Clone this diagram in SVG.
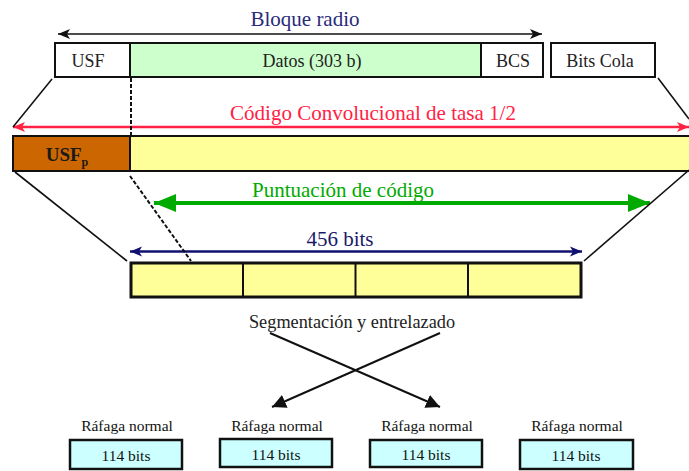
<svg xmlns="http://www.w3.org/2000/svg" width="689" height="471" viewBox="0 0 689 471">
  <style>
    text { font-family: "Liberation Serif", "Times New Roman", "DejaVu Serif", serif; }
    .lbl { font-size: 18px; fill: #222; text-anchor: middle; }
    .big { font-size: 21px; text-anchor: middle; }
    .small { font-size: 15.5px; fill: #111; text-anchor: middle; }
    .box { stroke: #111; stroke-width: 2; }
    .thin { stroke: #111; stroke-width: 1.6; fill: none; }
    .dash { stroke: #111; stroke-width: 2; stroke-dasharray: 4,2; fill: none; }
  </style>
  <defs>
    <marker id="ahBlack" markerUnits="userSpaceOnUse" markerWidth="14" markerHeight="12" refX="12" refY="6" orient="auto-start-reverse">
      <path d="M0,1 L12,6 L0,11 L3,6 Z" fill="#111"/>
    </marker>
    <marker id="ahRed" markerUnits="userSpaceOnUse" markerWidth="14" markerHeight="12" refX="12" refY="6" orient="auto-start-reverse">
      <path d="M0,1 L12,6 L0,11 L3,6 Z" fill="#ff2244"/>
    </marker>
    <marker id="ahGreen" markerUnits="userSpaceOnUse" markerWidth="24" markerHeight="22" refX="22" refY="11" orient="auto-start-reverse">
      <path d="M0,2 L22,11 L0,20 Z" fill="#00aa00"/>
    </marker>
    <marker id="ahNavy" markerUnits="userSpaceOnUse" markerWidth="14" markerHeight="12" refX="12" refY="6" orient="auto-start-reverse">
      <path d="M0,1 L12,6 L0,11 L3,6 Z" fill="#101070"/>
    </marker>
    <marker id="ahCross" markerUnits="userSpaceOnUse" markerWidth="16" markerHeight="14" refX="14" refY="7" orient="auto">
      <path d="M0,0 L14,7 L0,14 Z" fill="#111"/>
    </marker>
  </defs>

  <!-- radio block fields -->
  <g id="usf">
    <rect class="box" x="55" y="43" width="75" height="34" fill="#ffffff"/>
    <text class="lbl" x="88" y="67">USF</text>
  </g>
  <g id="datos">
    <rect class="box" x="130" y="43" width="351" height="34" fill="#ccffcc"/>
    <text class="lbl" x="312" y="67">Datos (303 b)</text>
  </g>
  <g id="bcs">
    <rect class="box" x="481" y="43" width="62" height="34" fill="#ffffff"/>
    <text class="lbl" x="513" y="67">BCS</text>
  </g>
  <g id="bits-cola">
    <rect class="box" x="551" y="43" width="104" height="34" fill="#ffffff"/>
    <text class="lbl" x="600" y="67">Bits Cola</text>
  </g>

  <!-- convolutionally coded block -->
  <g id="coded">
    <rect class="box" x="13" y="136" width="680" height="35" fill="#ffff99"/>
    <rect class="box" x="13" y="136" width="117" height="35" fill="#cc6600"/>
    <text x="67" y="161" font-size="19" font-weight="bold" fill="#1a1a1a" text-anchor="middle">USF<tspan font-size="12" dy="5">p</tspan></text>
  </g>

  <!-- 456-bit block -->
  <g id="block456">
    <rect x="131" y="263" width="450" height="34" fill="#ffff99" stroke="#111" stroke-width="3"/>
    <line x1="243" y1="263" x2="243" y2="297" stroke="#111" stroke-width="2"/>
    <line x1="355.5" y1="263" x2="355.5" y2="297" stroke="#111" stroke-width="2"/>
    <line x1="468" y1="263" x2="468" y2="297" stroke="#111" stroke-width="2"/>
  </g>

  <!-- bursts -->
  <g id="burst1">
    <text class="small" x="127" y="431">Ráfaga normal</text>
    <rect x="70" y="440" width="112" height="29" fill="#ccffff" stroke="#111" stroke-width="2.5"/>
    <text class="small" x="126" y="461">114 bits</text>
  </g>
  <g id="burst2">
    <text class="small" x="277" y="431">Ráfaga normal</text>
    <rect x="220" y="439" width="112" height="28" fill="#ccffff" stroke="#111" stroke-width="2.5"/>
    <text class="small" x="276" y="460">114 bits</text>
  </g>
  <g id="burst3">
    <text class="small" x="427" y="431">Ráfaga normal</text>
    <rect x="370" y="440" width="112" height="27" fill="#ccffff" stroke="#111" stroke-width="2.5"/>
    <text class="small" x="426" y="460">114 bits</text>
  </g>
  <g id="burst4">
    <text class="small" x="577" y="431">Ráfaga normal</text>
    <rect x="520" y="440" width="113" height="29" fill="#ccffff" stroke="#111" stroke-width="2.5"/>
    <text class="small" x="576" y="461">114 bits</text>
  </g>

  <!-- labels -->
  <g id="labels">
    <text class="big" x="305" y="26" fill="#2a2a7a">Bloque radio</text>
    <text class="big" x="373" y="120" fill="#ff2244">Código Convolucional de tasa 1/2</text>
    <text class="big" x="343" y="197" fill="#00aa00">Puntuación de código</text>
    <text class="big" x="340" y="246" fill="#1a1a6a">456 bits</text>
    <text x="352" y="328" font-size="18.3" fill="#222" text-anchor="middle">Segmentación y entrelazado</text>
  </g>

  <!-- connectors -->
  <g id="connectors">
    <line x1="58" y1="34" x2="542" y2="34" stroke="#111" stroke-width="1.5" marker-start="url(#ahBlack)" marker-end="url(#ahBlack)"/>
    <line x1="13" y1="127" x2="689" y2="127" stroke="#ff2244" stroke-width="2.5" marker-start="url(#ahRed)" marker-end="url(#ahRed)"/>
    <line x1="154" y1="203" x2="650" y2="203" stroke="#00aa00" stroke-width="4" marker-start="url(#ahGreen)" marker-end="url(#ahGreen)"/>
    <line x1="130" y1="251.5" x2="582" y2="251.5" stroke="#101070" stroke-width="2.5" marker-start="url(#ahNavy)" marker-end="url(#ahNavy)"/>

    <!-- expansion guides -->
    <line class="thin" x1="52" y1="79" x2="13" y2="127"/>
    <line class="thin" x1="658" y1="78" x2="689" y2="119"/>
    <line class="dash" x1="131" y1="78" x2="131" y2="136"/>
    <line class="thin" x1="15" y1="172" x2="127" y2="261"/>
    <line class="dash" x1="130" y1="176" x2="191" y2="261"/>
    <line class="thin" x1="689" y1="170" x2="584" y2="261"/>

    <!-- interleaving cross -->
    <line x1="270" y1="333" x2="440" y2="407" stroke="#111" stroke-width="2" marker-end="url(#ahCross)"/>
    <line x1="440" y1="333" x2="272" y2="407" stroke="#111" stroke-width="2" marker-end="url(#ahCross)"/>
  </g>
</svg>
